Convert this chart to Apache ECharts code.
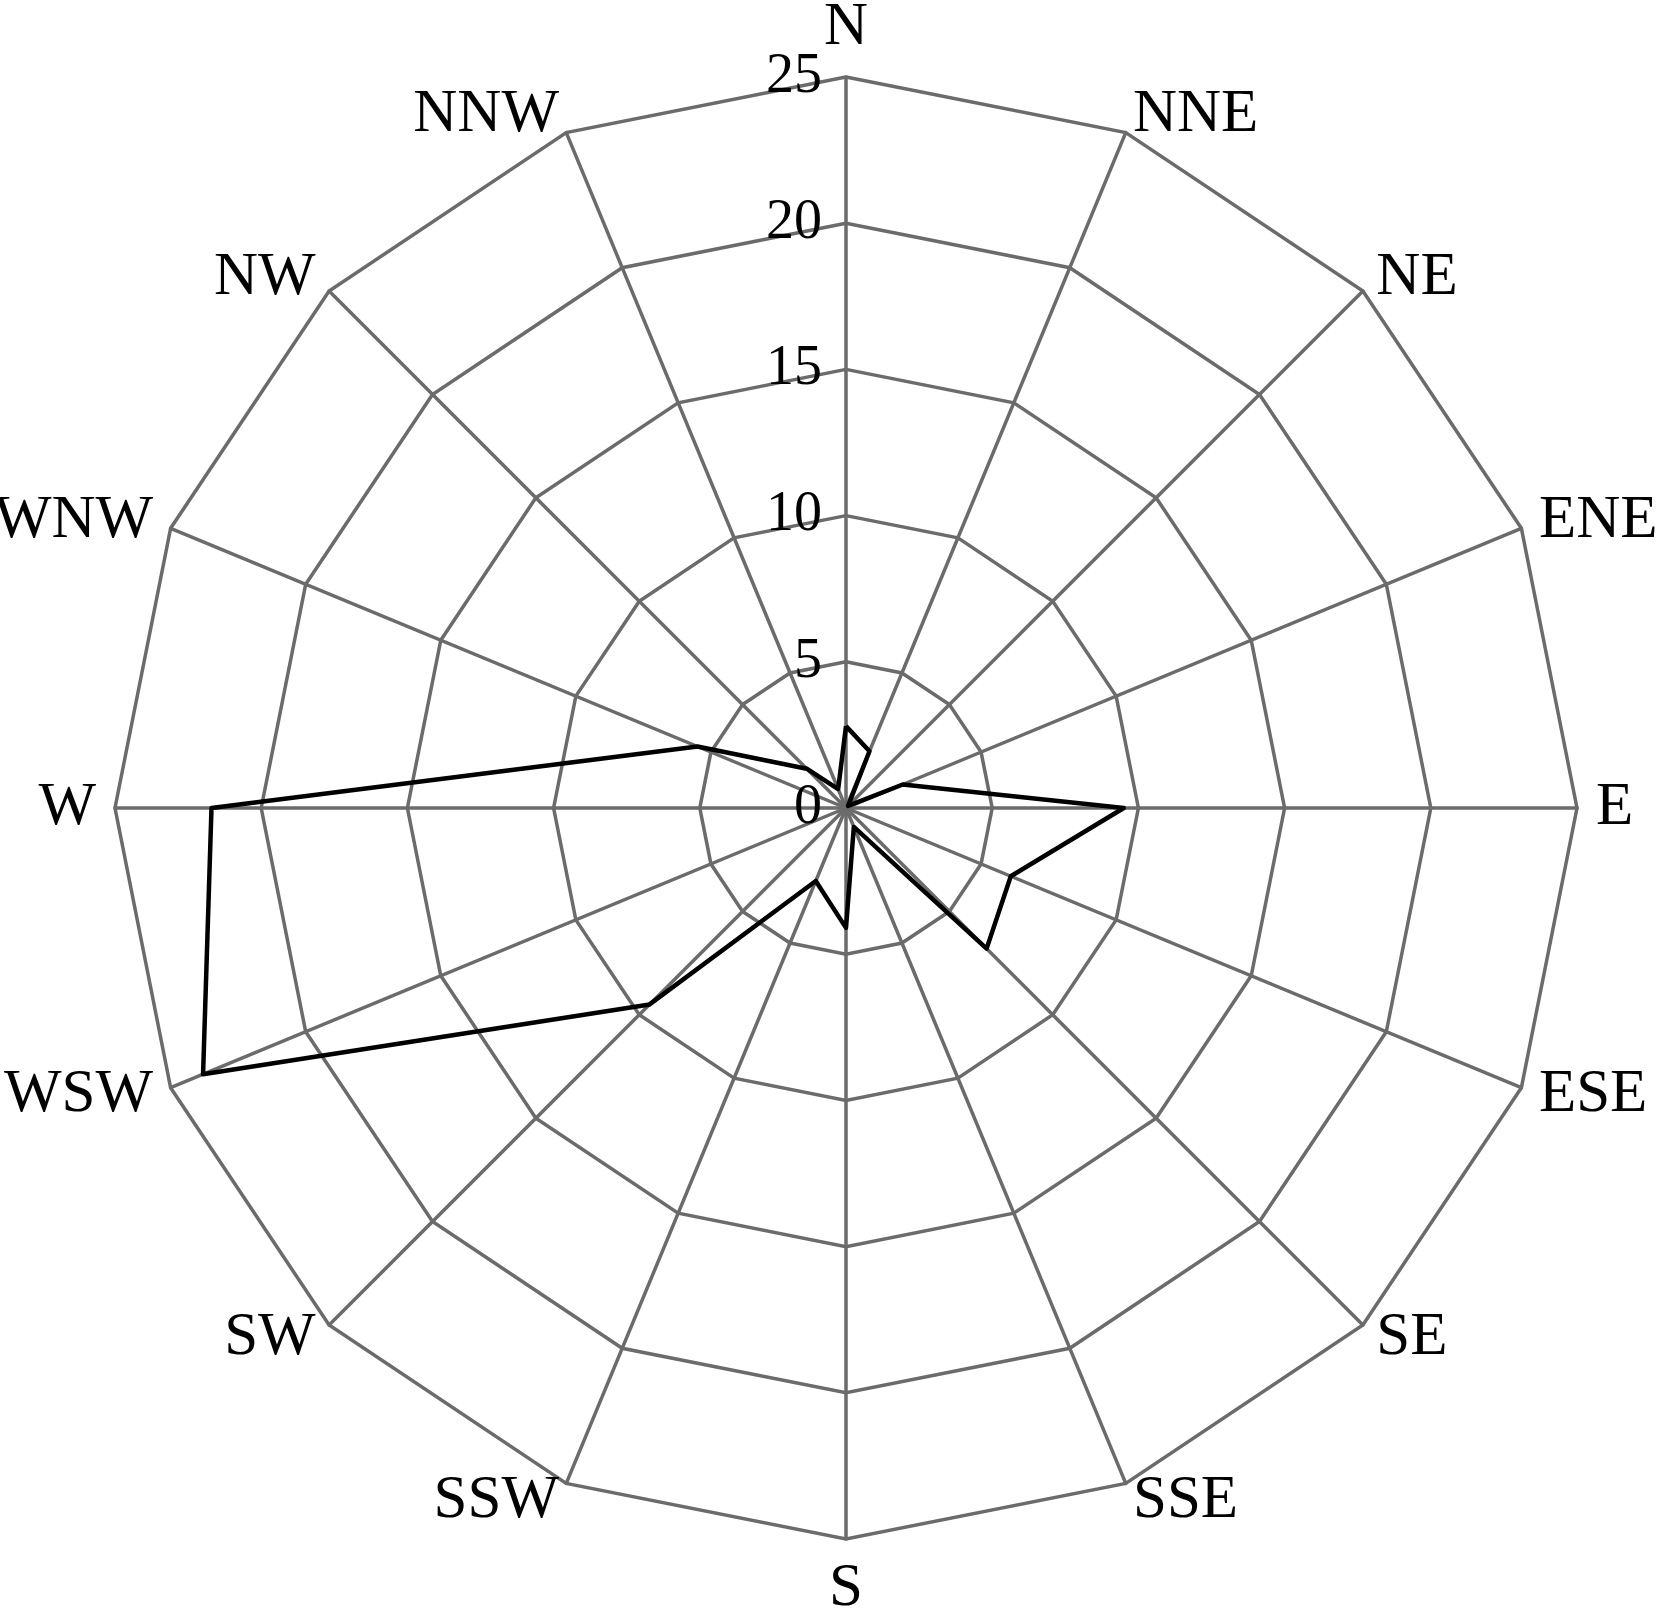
<!DOCTYPE html>
<html>
<head>
<meta charset="utf-8">
<script src="https://cdn.jsdelivr.net/npm/echarts@6/dist/echarts.min.js"></script>
<style>
  html, body { margin: 0; padding: 0; background: #fff; }
  #chart { width: 1668px; height: 1620px; }
</style>
</head>
<body>
<div id="chart"></div>
<script>
// directions, clockwise from north
const directions = ['N', 'NNE', 'NE', 'ENE', 'E', 'ESE', 'SE', 'SSE',
  'S', 'SSW', 'SW', 'WSW', 'W', 'WNW', 'NW', 'NNW']
// frequency per direction (same order)
const freq = [2.8, 2.1, 0.1, 2.1, 9.5, 6.1, 6.8, 0.7,
  4.1, 2.7, 9.5, 23.8, 21.7, 5.5, 1.9, 0.7]
const axisMax = 25
const tickStep = 5

// echarts radar lays indicators out counter-clockwise, so flip the order
function toCcw(arr) {
  return [arr[0]].concat(arr.slice(1).reverse())
}

const gridColor = '#6b6b6b'
const font = '"Liberation Serif", serif'

const indicators = toCcw(directions).map((name, i) => {
  const ind = { name: name, min: 0, max: axisMax, nameMoveOverlap: false }
  if (i === 0) {
    ind.axisLabel = {
      show: true,
      showMinLabel: true,
      color: '#000',
      fontFamily: font,
      fontSize: 56,
      margin: 24
    }
  }
  return ind
})

const chart = echarts.init(document.getElementById('chart'), null, { renderer: 'canvas' })
chart.setOption({
  backgroundColor: '#fff',
  animation: false,
  radar: {
    center: [846, 808],
    radius: 731,
    startAngle: 90,
    splitNumber: axisMax / tickStep,
    shape: 'polygon',
    nameGap: 19,
    nameMoveOverlap: false,
    axisName: {
      color: '#000',
      fontFamily: font,
      fontSize: 61
    },
    axisLine: { lineStyle: { color: gridColor, width: 3.5 } },
    splitLine: { lineStyle: { color: gridColor, width: 3.5 } },
    splitArea: { show: false },
    axisTick: { show: false },
    axisLabel: { show: false },
    indicator: indicators
  },
  series: [{
    type: 'radar',
    symbol: 'none',
    lineStyle: { color: '#000', width: 4.5 },
    data: [{ value: toCcw(freq), name: 'freq' }]
  }]
})
</script>
</body>
</html>
